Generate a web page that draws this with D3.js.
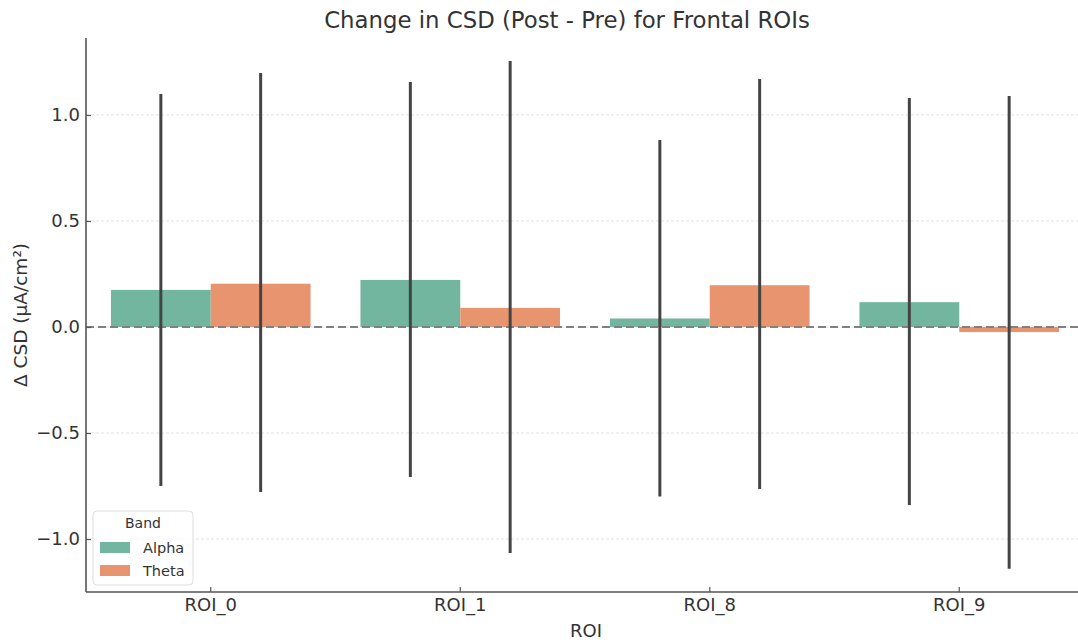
<!DOCTYPE html>
<html lang="en">
<head>
  <title>Change in CSD</title>
  <meta charset="utf-8">
  <script src="https://d3js.org/d3.v7.min.js"></script>
  <style>
    body { margin: 0; background: #fff; }
    svg text { font-family: "DejaVu Sans", sans-serif; fill: #333; }
  </style>
</head>
<body>
<svg width="1078" height="644"></svg>
<script>
  // data
  var rois = ["ROI_0", "ROI_1", "ROI_8", "ROI_9"];
  var bands = ["Alpha", "Theta"];
  var alphaMean = [0.175, 0.222, 0.040, 0.117];
  var thetaMean = [0.204, 0.090, 0.197, -0.024];
  var alphaLow  = [-0.750, -0.708, -0.800, -0.840];
  var alphaHigh = [1.099, 1.156, 0.882, 1.080];
  var thetaLow  = [-0.778, -1.066, -0.764, -1.140];
  var thetaHigh = [1.198, 1.255, 1.170, 1.090];
  var yTicks = [-1.0, -0.5, 0.0, 0.5, 1.0];
  var colors = ["#72b6a0", "#e8956f"];

  var data = [];
  rois.forEach(function(r, i) {
    data.push({roi: r, band: "Alpha", v: alphaMean[i], lo: alphaLow[i], hi: alphaHigh[i]});
    data.push({roi: r, band: "Theta", v: thetaMean[i], lo: thetaLow[i], hi: thetaHigh[i]});
  });

  var svg = d3.select("svg");
  var pLeft = 86, pRight = 1084, pTop = 38, pBottom = 592;

  var x = d3.scaleBand().domain(rois).range([pLeft, pRight]).paddingInner(0.2).paddingOuter(0.1);
  var xb = d3.scaleBand().domain(bands).range([0, x.bandwidth()]);
  var y = d3.scaleLinear().domain([-1.25, 1.363]).range([pBottom, pTop]);

  // grid
  svg.append("g").selectAll("line")
    .data(yTicks).enter().append("line")
    .attr("x1", pLeft).attr("x2", pRight)
    .attr("y1", function(d) { return y(d); }).attr("y2", function(d) { return y(d); })
    .attr("stroke", "#d9d9d9").attr("stroke-width", 0.8).attr("stroke-dasharray", "3,2");

  // bars
  svg.append("g").selectAll("rect")
    .data(data).enter().append("rect")
    .attr("x", function(d) { return x(d.roi) + xb(d.band); })
    .attr("width", xb.bandwidth())
    .attr("y", function(d) { return y(Math.max(0, d.v)); })
    .attr("height", function(d) { return Math.abs(y(d.v) - y(0)); })
    .attr("fill", function(d) { return colors[bands.indexOf(d.band)]; });

  // zero line
  svg.append("line")
    .attr("x1", pLeft).attr("x2", pRight)
    .attr("y1", y(0)).attr("y2", y(0))
    .attr("stroke", "#808080").attr("stroke-width", 2).attr("stroke-dasharray", "8,4");

  // error bars
  svg.append("g").selectAll("line")
    .data(data).enter().append("line")
    .attr("x1", function(d) { return x(d.roi) + xb(d.band) + xb.bandwidth() / 2; })
    .attr("x2", function(d) { return x(d.roi) + xb(d.band) + xb.bandwidth() / 2; })
    .attr("y1", function(d) { return y(d.lo); })
    .attr("y2", function(d) { return y(d.hi); })
    .attr("stroke", "#444").attr("stroke-width", 3);

  // axes (ticks point inward)
  var yAxis = svg.append("g")
    .attr("transform", "translate(" + pLeft + ",0)")
    .call(d3.axisLeft(y).tickValues(yTicks).tickFormat(d3.format(".1f")).tickSize(-5).tickPadding(6));
  var xAxis = svg.append("g")
    .attr("transform", "translate(0," + pBottom + ")")
    .call(d3.axisBottom(x).tickSize(-5).tickPadding(6));
  [yAxis, xAxis].forEach(function(a) {
    a.select(".domain").attr("stroke", "#555").attr("stroke-width", 1.6);
    a.selectAll(".tick line").attr("stroke", "#555").attr("stroke-width", 1.2);
    a.selectAll("text").style("font-size", "18px").attr("fill", "#333");
  });
  yAxis.select(".domain").attr("d", "M0," + pBottom + "V" + pTop);
  xAxis.select(".domain").attr("d", "M" + pLeft + ",0H" + pRight);

  // title and labels
  svg.append("text").attr("x", 567).attr("y", 28)
    .attr("text-anchor", "middle").style("font-size", "22.8px").text("Change in CSD (Post - Pre) for Frontal ROIs");
  svg.append("text").attr("x", 586).attr("y", 637)
    .attr("text-anchor", "middle").style("font-size", "18px").text("ROI");
  svg.append("text").attr("transform", "translate(27,315) rotate(-90)")
    .attr("text-anchor", "middle").style("font-size", "18.5px").text("Δ CSD (μA/cm²)");

  // legend
  var lg = svg.append("g").attr("transform", "translate(93,511)");
  lg.append("rect").attr("width", 100).attr("height", 74).attr("rx", 4)
    .attr("fill", "#fff").attr("fill-opacity", 0.8).attr("stroke", "#ddd");
  lg.append("text").attr("x", 50).attr("y", 17).attr("text-anchor", "middle")
    .style("font-size", "14px").text("Band");
  bands.forEach(function(b, i) {
    lg.append("rect").attr("x", 7).attr("y", 31 + i * 23).attr("width", 30).attr("height", 11)
      .attr("fill", colors[i]);
    lg.append("text").attr("x", 50).attr("y", 42 + i * 23)
      .style("font-size", "14.5px").text(b);
  });
</script>
</body>
</html>
